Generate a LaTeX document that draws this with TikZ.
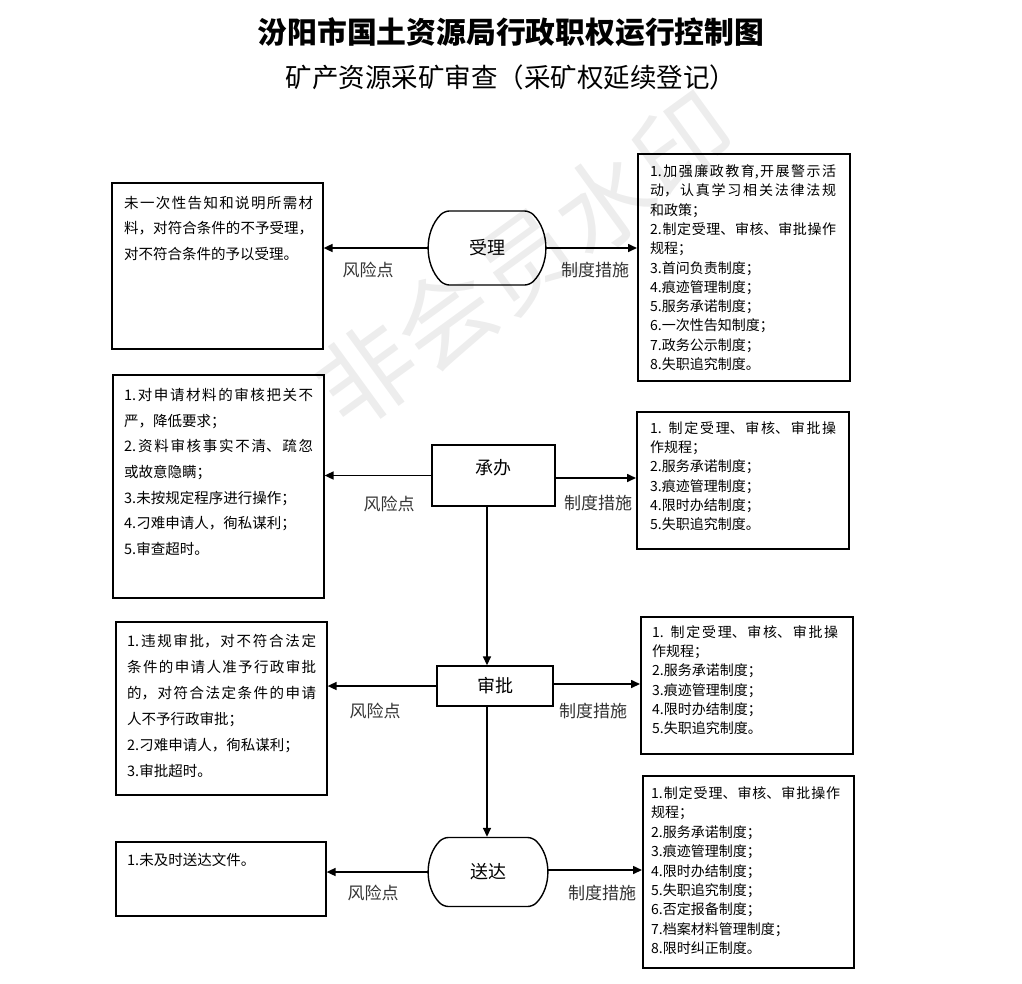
\documentclass[tikz,border=0pt]{standalone}
\usepackage{fontspec}
\setmainfont{Noto Sans CJK SC}
\usetikzlibrary{arrows.meta,shapes.misc}
\XeTeXlinebreaklocale "zh"
\XeTeXlinebreakskip=0pt plus 3pt
\setlength{\parindent}{0pt}
\begin{document}
\begin{tikzpicture}[x=1pt,y=-1pt,
  box/.style={draw,line width=1.6pt,inner sep=0pt,anchor=north west},
  ltext/.style={anchor=north west,inner sep=0pt,text width=189pt,align=justify,
    font=\fontsize{14.5}{25.5}\selectfont},
  rtext/.style={anchor=north west,inner sep=0pt,text width=186pt,align=justify,
    font=\fontsize{14}{19.3}\selectfont},
  term/.style={draw,line width=1.4pt,rounded rectangle,rounded rectangle arc length=90,
    rounded corners=5pt,
    minimum width=116pt,minimum height=74pt,inner sep=0pt,font=\fontsize{18}{20}\selectfont},
  proc/.style={draw,line width=1.4pt,rectangle,inner sep=0pt,font=\fontsize{18}{20}\selectfont},
  lab/.style={inner sep=0pt,text=black!80,font=\fontsize{17}{18}\selectfont},
  arr/.style={line width=1.6pt,-{Triangle[length=9pt,width=8pt]}},
  wm/.style={inner sep=0pt,text=black!7,rotate=36,font=\fontsize{98}{100}\selectfont}
]
\useasboundingbox (0,0) rectangle (1022,983);
% watermark
\node[wm] (wmark) at (525,260) {非会员水印};
% titles
\node[inner sep=0pt,font=\bfseries\fontsize{29.8}{32}\selectfont] (title) at (511,32) {汾阳市国土资源局行政职权运行控制图};
\node[inner sep=0pt,font=\fontsize{26.5}{30}\selectfont] (subtitle) at (511,77) {矿产资源采矿审查（采矿权延续登记）};

% centre flow
\node[term] (sl) at (487,248) {受理};
\node[proc,minimum width=123pt,minimum height=61pt,text depth=18pt] (cb) at (493.5,475.5) {承办};
\node[proc,minimum width=116pt,minimum height=40pt] (sp) at (495,686) {审批};
\node[term,minimum width=118pt,minimum height=69pt] (sd) at (488,872) {送达};
\coordinate (vx) at (487,0);

% left boxes
\node[box,minimum width=211pt,minimum height=166pt] (L1) at (111,182) {};
\node[ltext] (L1t) at (124,196) {未一次性告知和说明所需材\linebreak 料，对符合条件的不予受理，\linebreak 对不符合条件的予以受理。};
\node[box,minimum width=211pt,minimum height=223pt] (L2) at (112,374) {};
\node[ltext,font=\fontsize{14.5}{25.7}\selectfont] (L2t) at (124,388) {1.对申请材料的审核把关不\linebreak 严，降低要求；\\ 2.资料审核事实不清、疏忽\linebreak 或故意隐瞒；\\ 3.未按规定程序进行操作；\\ 4.刁难申请人，徇私谋利；\\ 5.审查超时。};
\node[box,minimum width=211pt,minimum height=173pt] (L3) at (115,621) {};
\node[ltext,font=\fontsize{14.5}{26}\selectfont] (L3t) at (127,634) {1.违规审批，对不符合法定\linebreak 条件的申请人准予行政审批\linebreak 的，对符合法定条件的申请\linebreak 人不予行政审批；\\ 2.刁难申请人，徇私谋利；\\ 3.审批超时。};
\node[box,minimum width=210pt,minimum height=74pt] (L4) at (115,841) {};
\node[ltext] (L4t) at (127,853) {1.未及时送达文件。};

% right boxes
\node[box,minimum width=212pt,minimum height=227pt] (R1) at (637,153) {};
\node[rtext] (R1t) at (650,164.5) {1.加强廉政教育,开展警示活\linebreak 动，认真学习相关法律法规\linebreak 和政策；\\ 2.制定受理、审核、审批操作\linebreak 规程；\\ 3.首问负责制度；\\ 4.痕迹管理制度；\\ 5.服务承诺制度；\\ 6.一次性告知制度；\\ 7.政务公示制度；\\ 8.失职追究制度。};
\node[box,minimum width=212pt,minimum height=137pt] (R2) at (636,411) {};
\node[rtext,font=\fontsize{14}{19.2}\selectfont] (R2t) at (650,421.5) {1. 制定受理、审核、审批操\linebreak 作规程；\\ 2.服务承诺制度；\\ 3.痕迹管理制度；\\ 4.限时办结制度；\\ 5.失职追究制度。};
\node[box,minimum width=212pt,minimum height=137pt] (R3) at (640,616) {};
\node[rtext,font=\fontsize{14}{19.2}\selectfont] (R3t) at (652,625.5) {1. 制定受理、审核、审批操\linebreak 作规程；\\ 2.服务承诺制度；\\ 3.痕迹管理制度；\\ 4.限时办结制度；\\ 5.失职追究制度。};
\node[box,minimum width=211pt,minimum height=192pt] (R4) at (642,775) {};
\node[rtext,text width=189pt,font=\fontsize{14}{19.4}\selectfont] (R4t) at (651,786.5) {1.制定受理、审核、审批操作\linebreak 规程；\\ 2.服务承诺制度；\\ 3.痕迹管理制度；\\ 4.限时办结制度；\\ 5.失职追究制度；\\ 6.否定报备制度；\\ 7.档案材料管理制度；\\ 8.限时纠正制度。};

% connectors
\draw[arr] (sl.west) -- (sl.west -| L1.east);
\draw[arr] (sl.east) -- (sl.east -| R1.west);
\draw[arr] (cb.west) -- (cb.west -| L2.east);
\draw[arr] ([yshift=-2.5pt]cb.east) -- ([yshift=-2.5pt]cb.east -| R2.west);
\draw[arr] (sp.west) -- (sp.west -| L3.east);
\draw[arr] ([yshift=2pt]sp.east) -- ([yshift=2pt]sp.east -| R3.west);
\draw[arr] (sd.west) -- (sd.west -| L4.east);
\draw[arr] ([yshift=2pt]sd.east) -- ([yshift=2pt]sd.east -| R4.west);
\draw[arr] (cb.south -| vx) -- (sp.north -| vx);
\draw[arr] (sp.south -| vx) -- (sd.north -| vx);

% labels
\node[lab] (k1) at (368,270) {风险点};
\node[lab] (m1) at (595,270) {制度措施};
\node[lab] (k2) at (389,504) {风险点};
\node[lab] (m2) at (598,503) {制度措施};
\node[lab] (k3) at (375,711) {风险点};
\node[lab] (m3) at (593,711) {制度措施};
\node[lab] (k4) at (373,893) {风险点};
\node[lab] (m4) at (602,893) {制度措施};
\end{tikzpicture}
\end{document}
